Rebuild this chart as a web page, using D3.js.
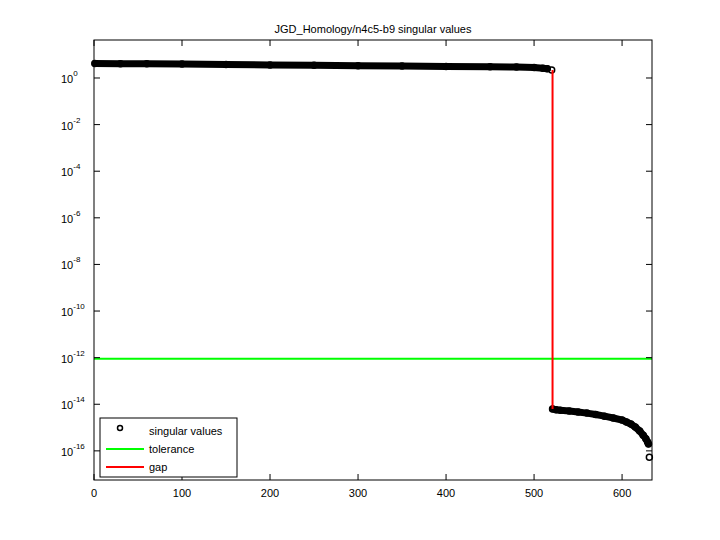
<!DOCTYPE html>
<html><head><meta charset="utf-8">
<script src="https://cdn.jsdelivr.net/npm/d3@7"></script>
<style>body{margin:0;background:#fff}text{font-family:"Liberation Sans",Arial,sans-serif}</style>
</head><body><script>
const w = 720, h = 540;
const m = {left: 94, right: 68, top: 40, bottom: 60};

const upperIdx = [1, 30, 60, 100, 150, 200, 250, 300, 350, 400, 450, 480, 500, 510, 515, 520];
const upperLog = [0.62, 0.61, 0.61, 0.60, 0.58, 0.56, 0.55, 0.53, 0.51, 0.49, 0.48, 0.47, 0.45, 0.42, 0.40, 0.34];
const lowerIdx = [521, 525, 530, 540, 550, 560, 570, 580, 590, 600, 605, 610, 615, 620, 624, 627, 629, 630, 631];
const lowerLog = [-14.20, -14.24, -14.26, -14.29, -14.33, -14.38, -14.44, -14.51, -14.59, -14.68, -14.76, -14.85, -14.98, -15.15, -15.33, -15.48, -15.62, -15.70, -16.27];
const tolerance = 9e-13;
const xTicks = [0, 100, 200, 300, 400, 500, 600];
const yExps = [0, -2, -4, -6, -8, -10, -12, -14, -16];

const svg = d3.select("body").append("svg").attr("width", w).attr("height", h);
const x = d3.scaleLinear().domain([0, 634]).range([m.left, w - m.right]);
const y = d3.scaleLog().domain([Math.pow(10, -17.25), Math.pow(10, 1.63)]).range([h - m.bottom, m.top]);

const upper = upperIdx.map((d, i) => [d, Math.pow(10, upperLog[i])]);
const lower = lowerIdx.map((d, i) => [d, Math.pow(10, lowerLog[i])]);

svg.append("text").attr("x", 373).attr("y", 33).attr("text-anchor", "middle")
  .attr("font-size", 11).text("JGD_Homology/n4c5-b9 singular values");

// tolerance
svg.append("line").attr("x1", x(0)).attr("x2", x(634)).attr("y1", y(tolerance)).attr("y2", y(tolerance))
  .attr("stroke", "#00ff00").attr("stroke-width", 2);

const line = d3.line().x(d => x(d[0])).y(d => y(d[1]));
[upper, lower].forEach(s => {
  svg.append("path").attr("d", line(s.slice(0, s.length - 1))).attr("fill", "none")
    .attr("stroke", "#000").attr("stroke-width", 7).attr("stroke-linecap", "round");
  svg.selectAll(null).data(s).enter().append("circle")
    .attr("cx", d => x(d[0])).attr("cy", d => y(d[1])).attr("r", 3)
    .attr("fill", "none").attr("stroke", "#000").attr("stroke-width", 1.5);
});

// gap
svg.append("line").attr("x1", x(521)).attr("x2", x(521))
  .attr("y1", y(upper[upper.length - 1][1])).attr("y2", y(lower[0][1]))
  .attr("stroke", "#ff0000").attr("stroke-width", 2);

// axes box
svg.append("rect").attr("x", m.left).attr("y", m.top).attr("width", w - m.left - m.right)
  .attr("height", h - m.top - m.bottom).attr("fill", "none").attr("stroke", "#000");

xTicks.forEach(t => {
  [[h - m.bottom, -1], [m.top, 1]].forEach(([yy, s]) => {
    svg.append("line").attr("x1", x(t)).attr("x2", x(t)).attr("y1", yy).attr("y2", yy + s * 6).attr("stroke", "#000");
  });
  svg.append("text").attr("x", x(t)).attr("y", h - m.bottom + 17).attr("text-anchor", "middle")
    .attr("font-size", 11).text(t);
});
yExps.forEach(e => {
  const yy = y(Math.pow(10, e));
  svg.append("line").attr("x1", m.left).attr("x2", m.left + 6).attr("y1", yy).attr("y2", yy).attr("stroke", "#000");
  svg.append("line").attr("x1", w - m.right).attr("x2", w - m.right - 6).attr("y1", yy).attr("y2", yy).attr("stroke", "#000");
  const t = svg.append("text").attr("x", m.left - 33).attr("y", yy + 5).attr("font-size", 11);
  t.append("tspan").text("10");
  t.append("tspan").attr("dy", -7).attr("font-size", 8).text(e);
});

// legend
const lg = svg.append("g").attr("transform", "translate(100,418)");
lg.append("rect").attr("width", 137).attr("height", 59).attr("fill", "#fff").attr("stroke", "#000");
const items = [["singular values", null], ["tolerance", "#00ff00"], ["gap", "#ff0000"]];
items.forEach(([label, c], i) => {
  const yy = 13 + i * 18;
  if (c) lg.append("line").attr("x1", 6).attr("x2", 44).attr("y1", yy).attr("y2", yy).attr("stroke", c).attr("stroke-width", 2);
  else lg.append("circle").attr("cx", 20).attr("cy", yy - 3).attr("r", 2.5).attr("fill", "none").attr("stroke", "#000").attr("stroke-width", 1.5);
  lg.append("text").attr("x", 49).attr("y", yy + 4).attr("font-size", 11).text(label);
});
</script></body></html>
